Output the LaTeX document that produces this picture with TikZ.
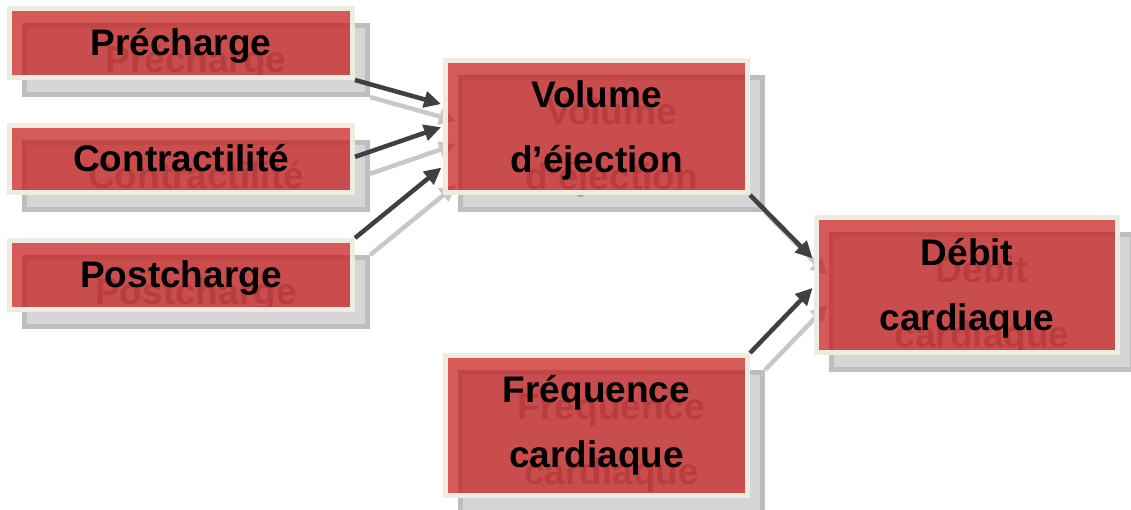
\documentclass[tikz,border=0pt]{standalone}
\usepackage{fontspec}
\setmainfont{Liberation Sans}
\usetikzlibrary{arrows.meta,calc}
\definecolor{boxred}{RGB}{198,20,20}
\definecolor{cream}{RGB}{238,235,224}
\definecolor{shfill}{RGB}{214,214,214}
\definecolor{shedge}{RGB}{190,190,190}
\definecolor{shtext}{RGB}{160,160,160}
\definecolor{arrowdark}{RGB}{64,64,64}
\definecolor{arrowghost}{RGB}{200,200,200}

\newcommand{\diaglayer}[3]{%
  \node[#2, oneline, minimum width=343pt, minimum height=69pt] (#1pre) at (181,43) {Précharge};
  \node[#2, oneline, minimum width=343pt, minimum height=67pt] (#1con) at (181,159) {Contractilité};
  \node[#2, oneline, minimum width=343pt, minimum height=69pt] (#1post) at (181,275) {Postcharge};
  \node[#2, text depth=-4pt, minimum width=302pt, minimum height=132pt] (#1vol) at (596.5,126.5) {Volume\\d’éjection};
  \node[#2, text depth=1.5pt, minimum width=301pt, minimum height=135pt] (#1deb) at (967,285) {Débit\\cardiaque};
  \node[#2, text depth=8.5pt, minimum width=302pt, minimum height=140pt] (#1freq) at (596.5,425.5) {Fréquence\\cardiaque};
  \draw[#3] (#1pre.south east) -- ($(#1vol.north west)!0.34!(#1vol.south west)$);
  \draw[#3] ($(#1con.north east)!0.47!(#1con.south east)$) -- ($(#1vol.north west)!0.50!(#1vol.south west)$);
  \draw[#3] (#1post.north east) -- ($(#1vol.north west)!0.79!(#1vol.south west)$);
  \draw[#3] (#1vol.south east) -- ($(#1deb.north west)!0.32!(#1deb.south west)$);
  \draw[#3] (#1freq.north east) -- ($(#1deb.north west)!0.51!(#1deb.south west)$);
}

\begin{document}
\begin{tikzpicture}[x=1pt,y=-1pt,
  boxbase/.style={rectangle, inner sep=0pt, line width=5pt, align=center,
    font=\fontsize{37}{64.5}\selectfont\bfseries},
  frontbox/.style={boxbase, draw=cream, fill=boxred, fill opacity=0.7, text opacity=1, text=black},
  shadowbox/.style={boxbase, draw=shedge, fill=shfill, text=shtext},
  oneline/.style={text height=27pt, text depth=3pt},
  link/.style={draw=arrowdark, line width=4.5pt, -{Triangle[length=17pt,width=16pt]}, shorten >=2pt},
  ghostlink/.style={link, draw=arrowghost}
]
\useasboundingbox (0,0) rectangle (1131,509);
\begin{scope}[shift={(15,17)}]
  \diaglayer{s}{shadowbox}{ghostlink}
\end{scope}
\diaglayer{}{frontbox}{link}
\end{tikzpicture}
\end{document}
